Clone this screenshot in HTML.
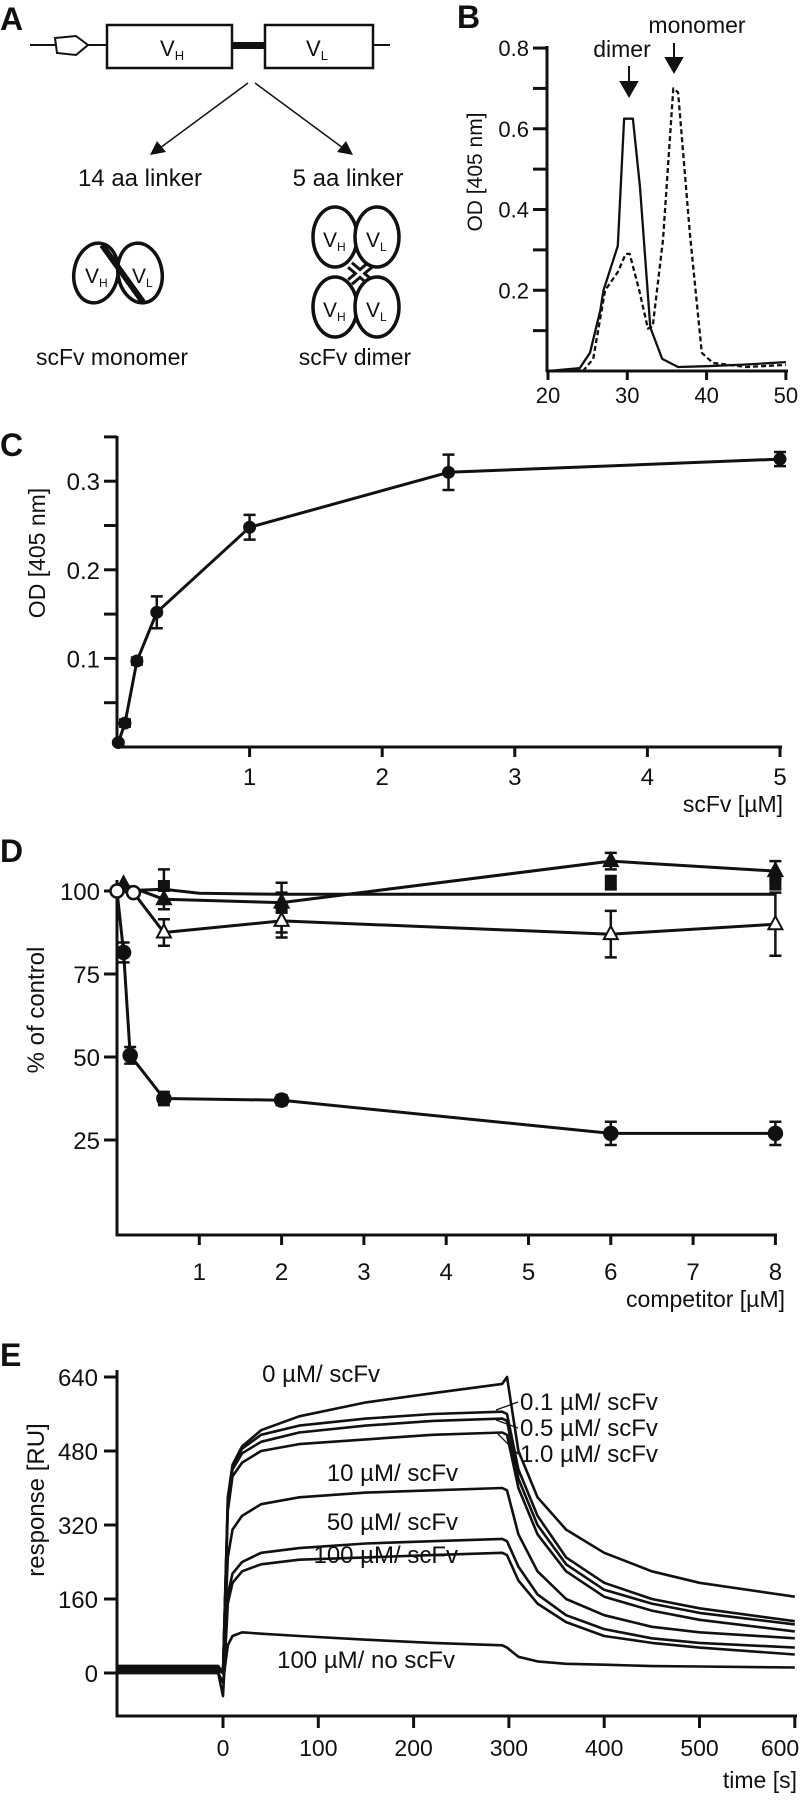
<!DOCTYPE html>
<html><head><meta charset="utf-8"><style>
html,body{margin:0;padding:0;background:#fff;}
svg{display:block;font-family:"Liberation Sans",Arial,sans-serif;}
</style></head><body>
<svg id="fig" width="800" height="1800" viewBox="0 0 800 1800" xmlns="http://www.w3.org/2000/svg">
<g id="panelA" stroke="#111" fill="none">
  <text x="0" y="30" font-size="32" font-weight="bold" fill="#111" stroke="none">A</text>
  <line x1="30" y1="45" x2="55" y2="45" stroke-width="2"/>
  <polygon points="55,38 76,36 88,45 76,55 57,53" stroke-width="2" fill="#fff"/>
  <line x1="88" y1="45" x2="107" y2="45" stroke-width="2"/>
  <rect x="107" y="25" width="125" height="43" stroke-width="2.5" fill="#fff"/>
  <rect x="232" y="42" width="33" height="7" fill="#111" stroke="none"/>
  <rect x="265" y="25" width="108" height="43" stroke-width="2.5" fill="#fff"/>
  <line x1="373" y1="45" x2="390" y2="45" stroke-width="2"/>
  <text x="160" y="56" font-size="22" fill="#111" stroke="none">V<tspan font-size="13" dy="4">H</tspan></text>
  <text x="306" y="56" font-size="22" fill="#111" stroke="none">V<tspan font-size="13" dy="4">L</tspan></text>
  <line x1="248" y1="83" x2="160" y2="148" stroke-width="1.5"/>
  <polygon points="150,155 157,141 166,152" fill="#111" stroke="none"/>
  <line x1="255" y1="83" x2="343" y2="148" stroke-width="1.5"/>
  <polygon points="353,155 337,152 346,141" fill="#111" stroke="none"/>
  <text x="140" y="186" font-size="24" text-anchor="middle" fill="#111" stroke="none">14 aa linker</text>
  <text x="348" y="186" font-size="24" text-anchor="middle" fill="#111" stroke="none">5 aa linker</text>
  <g stroke-width="3.5">
    <ellipse cx="96" cy="273" rx="22" ry="30" transform="rotate(10 96 273)" fill="#fff"/>
    <ellipse cx="140" cy="273" rx="22" ry="30" transform="rotate(-10 140 273)" fill="#fff"/>
    <line x1="102" y1="245" x2="143" y2="302" stroke-width="6"/>
    <text x="85" y="283" font-size="21" fill="#111" stroke="none">V<tspan font-size="12" dy="4">H</tspan></text>
    <text x="132" y="283" font-size="21" fill="#111" stroke="none">V<tspan font-size="12" dy="4">L</tspan></text>
  </g>
  <g stroke-width="3.5">
    <line x1="350" y1="265" x2="370" y2="282" stroke-width="9"/>
    <line x1="370" y1="265" x2="350" y2="282" stroke-width="9"/>
    <line x1="350" y1="265" x2="370" y2="282" stroke-width="3" stroke="#fff"/>
    <line x1="370" y1="265" x2="350" y2="282" stroke-width="3" stroke="#fff"/>
    <ellipse cx="335" cy="237" rx="22" ry="30" fill="#fff"/>
    <ellipse cx="377" cy="237" rx="22" ry="30" fill="#fff"/>
    <ellipse cx="335" cy="307" rx="22" ry="30" fill="#fff"/>
    <ellipse cx="377" cy="307" rx="22" ry="30" fill="#fff"/>
    <text x="323" y="247" font-size="21" fill="#111" stroke="none">V<tspan font-size="12" dy="4">H</tspan></text>
    <text x="366" y="247" font-size="21" fill="#111" stroke="none">V<tspan font-size="12" dy="4">L</tspan></text>
    <text x="323" y="317" font-size="21" fill="#111" stroke="none">V<tspan font-size="12" dy="4">H</tspan></text>
    <text x="366" y="317" font-size="21" fill="#111" stroke="none">V<tspan font-size="12" dy="4">L</tspan></text>
  </g>
  <text x="112" y="365" font-size="23" text-anchor="middle" fill="#111" stroke="none">scFv monomer</text>
  <text x="355" y="365" font-size="23" text-anchor="middle" fill="#111" stroke="none">scFv dimer</text>
</g>
</svg>
<script>
// ---------- DATA ----------
// Panel B
const bSolidX = [20,24,25.3,26.6,27,28.8,29.6,30.7,31.6,32.9,34.4,36.4,40,45,50];
const bSolidY = [0,0.007,0.045,0.15,0.2,0.31,0.625,0.625,0.455,0.108,0.03,0.01,0.012,0.016,0.022];
const bDashX = [24.4,25.7,27.2,28.8,29.8,30.3,31.5,32.6,33.2,34.5,35.8,36.4,37.9,39.4,40.8,45,50];
const bDashY = [0,0.03,0.2,0.245,0.29,0.29,0.2,0.105,0.11,0.325,0.70,0.69,0.34,0.045,0.02,0.01,0.015];
const bYTicks = [0.2,0.4,0.6,0.8];
const bYMinor = [0.1,0.3,0.5,0.7];
const bXTicks = [20,30,40,50];
// Panel C
const cX = [0.01,0.06,0.15,0.3,1,2.5,5];
const cY = [0.005,0.027,0.097,0.152,0.248,0.31,0.325];
const cErr = [0.002,0.004,0.004,0.018,0.014,0.02,0.008];
const cYTicks = [0.1,0.2,0.3];
const cYMinor = [0.05,0.15,0.25,0.35];
const cXTicks = [1,2,3,4,5];
// Panel D
const dCircX = [0,0.08,0.16,0.57,2,6,8];
const dCircY = [100,81.5,50.5,37.5,37,27,27];
const dCircE = [0,3,2.5,2,1.5,3.5,3.5];
const dOTriX = [0.2,0.57,2,6,8];
const dOTriY = [99.5,87.5,91,87,90];
const dOTriE = [0,4,5,7,9.5];
const dSqX = [0.57,2,6,8];
const dSqY = [101.5,95,102.5,102.5];
const dSqE = [5,7.5,2,2];
const dSqLineX = [0,0.57,1,2,6,8];
const dSqLineY = [100,100.5,99.3,99,99,99];
const dFTriX = [0.08,0.57,2,6,8];
const dFTriY = [102,97.5,96.5,109,106];
const dFTriE = [0,3,3,2.5,3];
const dYTicks = [25,50,75,100];
const dXTicks = [1,2,3,4,5,6,7,8];
// Panel E
const eT = [-112,-5,0,5,10,20,40,80,150,220,293,298,310,330,360,400,450,500,600];
const e0 = [15,15,0,380,450,490,525,555,585,605,625,640,480,380,310,260,220,195,165];
const e01 = [15,15,0,370,445,485,515,535,550,560,565,560,440,340,250,195,160,140,112];
const e05 = [10,10,0,360,440,475,500,520,535,545,550,545,420,320,235,180,150,130,105];
const e10 = [10,10,0,350,425,455,480,495,505,515,520,515,400,300,220,165,135,115,90];
const e100 = [5,5,0,250,310,340,365,380,390,395,400,395,300,220,160,125,100,88,75];
const e500 = [5,5,0,170,215,240,260,270,280,285,290,285,230,170,125,95,75,65,55];
const e1000 = [0,0,-50,150,195,220,235,245,250,255,260,255,200,150,110,80,65,55,40];
const eNo = [0,0,-20,60,80,88,85,80,72,65,60,55,35,25,20,18,15,14,12];
const eYTicks = [0,160,320,480,640];
const eXTicks = [0,100,200,300,400,500,600];

// ---------- HELPERS ----------
const NS = "http://www.w3.org/2000/svg";
const svg = document.getElementById('fig');
function mk(tag, attrs, parent) {
  const el = document.createElementNS(NS, tag);
  for (const k in attrs) el.setAttribute(k, attrs[k]);
  (parent || svg).appendChild(el);
  return el;
}
function txt(x, y, s, size, anchor, parent) {
  const t = mk('text', {x: x, y: y, 'font-size': size, 'text-anchor': anchor || 'start', fill: '#111'}, parent);
  t.textContent = s;
  return t;
}
function grp(name) {
  const g = mk('g', {});
  
  
  return g;
}
function poly(pts, parent, dash, w) {
  const p = mk('polyline', {points: pts.map(p => p[0].toFixed(1) + ',' + p[1].toFixed(1)).join(' '), fill: 'none', stroke: '#111', 'stroke-width': w || 2.5, 'stroke-linejoin': 'round'}, parent);
  if (dash) p.setAttribute('stroke-dasharray', dash);
  return p;
}

// ---------- PANEL B ----------
const bx = v => 548 + (v - 20) * 7.93;
const by = v => 371 - v * 403.7;
const gB = grp('panel-b-chart');
let el = txt(457, 28, 'B', 32, 'start', gB);
el.setAttribute('font-weight', 'bold');


el = mk('line', {x1: 547, y1: 46, x2: 547, y2: 372, stroke: '#111', 'stroke-width': 3}, gB);


el = mk('line', {x1: 546, y1: 371, x2: 788, y2: 371, stroke: '#111', 'stroke-width': 3}, gB);


bYTicks.forEach(v => {
  const t = mk('line', {x1: 533, y1: by(v), x2: 547, y2: by(v), stroke: '#111', 'stroke-width': 3}, gB);
  
  
  const l = txt(529, by(v) + 8, v.toFixed(1), 22, 'end', gB);
  
  
});
bYMinor.forEach(v => {
  const t = mk('line', {x1: 533, y1: by(v), x2: 547, y2: by(v), stroke: '#111', 'stroke-width': 3}, gB);
  
  
});
bXTicks.forEach(v => {
  const t = mk('line', {x1: bx(v), y1: 371, x2: bx(v), y2: 380, stroke: '#111', 'stroke-width': 3}, gB);
  
  
  const l = txt(bx(v), 403, String(v), 22, 'middle', gB);
  
  
});
el = txt(0, 0, 'OD  [405 nm]', 21, 'middle', gB);
el.setAttribute('transform', 'translate(482,172) rotate(-90)');


el = poly(bSolidX.map((x, i) => [bx(x), by(bSolidY[i])]), gB, null, 2.3);


el = poly(bDashX.map((x, i) => [bx(x), by(bDashY[i])]), gB, '5,3', 2.3);


el = txt(622, 57, 'dimer', 23, 'middle', gB);


el = mk('path', {d: 'M629,66 L629,84 M621,82 L637,82 L629,96 Z', stroke: '#111', 'stroke-width': 2, fill: '#111'}, gB);


el = txt(697, 33, 'monomer', 23, 'middle', gB);


el = mk('path', {d: 'M674,43 L674,60 M666,58 L682,58 L674,72 Z', stroke: '#111', 'stroke-width': 2, fill: '#111'}, gB);



// ---------- PANEL C ----------
const cx = v => 117 + v * 132.6;
const cy = v => 747 - v * 886;
const gC = grp('panel-c-chart');
el = txt(0, 456, 'C', 32, 'start', gC);
el.setAttribute('font-weight', 'bold');


el = mk('line', {x1: 117, y1: 436, x2: 117, y2: 748, stroke: '#111', 'stroke-width': 3}, gC);


el = mk('line', {x1: 116, y1: 747, x2: 782, y2: 747, stroke: '#111', 'stroke-width': 3}, gC);


cYTicks.forEach(v => {
  const t = mk('line', {x1: 104, y1: cy(v), x2: 117, y2: cy(v), stroke: '#111', 'stroke-width': 3}, gC);
  
  
  const l = txt(100, cy(v) + 9, v.toFixed(1), 24, 'end', gC);
  
  
});
cYMinor.forEach(v => {
  const t = mk('line', {x1: 104, y1: cy(v), x2: 117, y2: cy(v), stroke: '#111', 'stroke-width': 3}, gC);
  
  
});
cXTicks.forEach(v => {
  const t = mk('line', {x1: cx(v), y1: 747, x2: cx(v), y2: 757, stroke: '#111', 'stroke-width': 3}, gC);
  
  
  const l = txt(cx(v), 785, String(v), 24, 'middle', gC);
  
  
});
el = txt(783, 812, 'scFv  [µM]', 23, 'end', gC);


el = txt(0, 0, 'OD  [405 nm]', 23, 'middle', gC);
el.setAttribute('transform', 'translate(45,553) rotate(-90)');


el = poly(cX.map((x, i) => [cx(x), cy(cY[i])]), gC, null, 3);


cX.forEach((x, i) => {
  const X = cx(x), Y = cy(cY[i]), t = cy(cY[i] + cErr[i]), b = cy(cY[i] - cErr[i]);
  const e = mk('path', {d: `M${X},${t} L${X},${b} M${X - 6},${t} L${X + 6},${t} M${X - 6},${b} L${X + 6},${b}`, stroke: '#111', 'stroke-width': 2.5, fill: 'none'}, gC);
  
  
  const p = mk('circle', {cx: X, cy: Y, r: 6.5, fill: '#111'}, gC);
  
  
});

// ---------- PANEL D ----------
const dx = v => 117 + v * 82.3;
const dy = v => 891 + (100 - v) * 3.32;
const gD = grp('panel-d-chart');
el = txt(0, 862, 'D', 32, 'start', gD);
el.setAttribute('font-weight', 'bold');


el = mk('line', {x1: 117, y1: 880, x2: 117, y2: 1236, stroke: '#111', 'stroke-width': 3}, gD);


el = mk('line', {x1: 116, y1: 1235, x2: 777, y2: 1235, stroke: '#111', 'stroke-width': 3}, gD);


dYTicks.forEach(v => {
  const t = mk('line', {x1: 104, y1: dy(v), x2: 117, y2: dy(v), stroke: '#111', 'stroke-width': 3}, gD);
  
  
  const l = txt(100, dy(v) + 9, String(v), 24, 'end', gD);
  
  
});
dXTicks.forEach(v => {
  const t = mk('line', {x1: dx(v), y1: 1235, x2: dx(v), y2: 1245, stroke: '#111', 'stroke-width': 3}, gD);
  
  
  const l = txt(dx(v), 1280, String(v), 24, 'middle', gD);
  
  
});
el = txt(785, 1307, 'competitor [µM]', 23, 'end', gD);


el = txt(0, 0, '% of control', 24, 'middle', gD);
el.setAttribute('transform', 'translate(44,1010) rotate(-90)');


function dSeries(xs, ys, es, kind, name, lineX, lineY) {
  const g = grp(name);
  gD.appendChild(g);
  let pts;
  if (lineX) pts = lineX.map((x, i) => [dx(x), dy(lineY[i])]);
  else {
    pts = xs.map((x, i) => [dx(x), dy(ys[i])]);
    if (kind !== 'circle') pts.unshift([dx(0), dy(100)]);
  }
  const l = poly(pts, g, null, 3);
  
  
  xs.forEach((x, i) => {
    const X = dx(x), Y = dy(ys[i]);
    if (es[i] > 0) {
      const t = dy(ys[i] + es[i]), b = dy(ys[i] - es[i]);
      const e = mk('path', {d: `M${X},${t} L${X},${b} M${X - 6},${t} L${X + 6},${t} M${X - 6},${b} L${X + 6},${b}`, stroke: '#111', 'stroke-width': 2.5, fill: 'none'}, g);
      
      
    }
    let m;
    if (kind === 'circle') m = mk('circle', {cx: X, cy: Y, r: 6.5, fill: (i === 0 ? '#fff' : '#111'), stroke: '#111', 'stroke-width': 2.5}, g);
    else if (kind === 'square') m = mk('rect', {x: X - 6, y: Y - 6, width: 12, height: 12, fill: '#111'}, g);
    else if (kind === 'otri' && i === 0) m = mk('circle', {cx: X, cy: Y, r: 6.5, fill: '#fff', stroke: '#111', 'stroke-width': 2.5}, g);
    else m = mk('polygon', {points: `${X},${Y - 8} ${X + 7},${Y + 5} ${X - 7},${Y + 5}`, fill: kind === 'otri' ? '#fff' : '#111', stroke: '#111', 'stroke-width': 2}, g);
    
    
  });
}
dSeries(dSqX, dSqY, dSqE, 'square', 'd-series-square', dSqLineX, dSqLineY);
dSeries(dFTriX, dFTriY, dFTriE, 'ftri', 'd-series-filled-triangle');
dSeries(dOTriX, dOTriY, dOTriE, 'otri', 'd-series-open-triangle');
dSeries(dCircX, dCircY, dCircE, 'circle', 'd-series-circle');

// ---------- PANEL E ----------
const ex = v => 223 + v * 0.953;
const ey = v => 1673 - v * 0.4625;
const gE = grp('panel-e-chart');
el = txt(0, 1366, 'E', 32, 'start', gE);
el.setAttribute('font-weight', 'bold');


el = mk('line', {x1: 117, y1: 1370, x2: 117, y2: 1717, stroke: '#111', 'stroke-width': 3}, gE);


el = mk('line', {x1: 116, y1: 1716, x2: 797, y2: 1716, stroke: '#111', 'stroke-width': 3}, gE);


eYTicks.forEach(v => {
  const t = mk('line', {x1: 104, y1: ey(v), x2: 117, y2: ey(v), stroke: '#111', 'stroke-width': 3}, gE);
  
  
  const l = txt(98, ey(v) + 9, String(v), 24, 'end', gE);
  
  
});
eXTicks.forEach(v => {
  const t = mk('line', {x1: ex(v), y1: 1716, x2: ex(v), y2: 1728, stroke: '#111', 'stroke-width': 3}, gE);
  
  
  const l = txt(Math.min(ex(v), 780), 1756, String(v), 23, 'middle', gE);
  
  
});
el = txt(797, 1788, 'time [s]', 23, 'end', gE);


el = txt(0, 0, 'response [RU]', 24, 'middle', gE);
el.setAttribute('transform', 'translate(44,1500) rotate(-90)');


const eCurves = [e0, e01, e05, e10, e100, e500, e1000, eNo];
const eNames = ['e-curve-0um', 'e-curve-0-1um', 'e-curve-0-5um', 'e-curve-1-0um', 'e-curve-10um', 'e-curve-50um', 'e-curve-100um', 'e-curve-100um-no-scfv'];
eCurves.forEach((c, k) => {
  const p = poly(eT.map((t, i) => [ex(t), ey(c[i])]), gE, null, 2.6);
  
  
});
const eLabels = [['0 µM/ scFv', 380, 1382, 'end'], ['0.1 µM/ scFv', 520, 1410, 'start'], ['0.5 µM/ scFv', 520, 1436, 'start'], ['1.0 µM/ scFv', 520, 1462, 'start'],
  ['10 µM/ scFv', 458, 1481, 'end'], ['50 µM/ scFv', 458, 1530, 'end'], ['100 µM/ scFv', 458, 1563, 'end'], ['100 µM/ no scFv', 455, 1668, 'end']];
eLabels.forEach((L, k) => {
  const t = txt(L[1], L[2], L[0], 24, L[3], gE);
  
  
});
[[518, 1402, 1410], [518, 1428, 1420], [518, 1454, 1432]].forEach(a => {
  const l = mk('line', {x1: a[0], y1: a[1], x2: 496, y2: a[2], stroke: '#111', 'stroke-width': 1.3}, gE);
  
  
});
</script>
</body></html>
